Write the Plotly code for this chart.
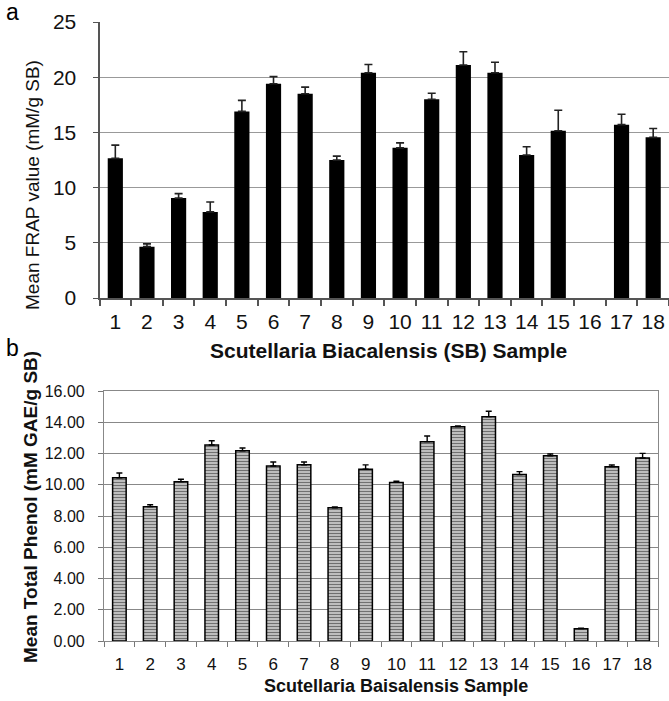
import plotly.graph_objects as go

W, H = 669, 701

samples = [str(i) for i in range(1, 19)]

frap = [12.65, 4.65, 9.05, 7.8, 16.9, 19.4, 18.5, 12.5, 20.4, 13.6,
        18.0, 21.1, 20.4, 12.95, 15.15, None, 15.7, 14.55]
frap_err = [1.2, 0.25, 0.4, 0.9, 1.0, 0.65, 0.6, 0.35, 0.75, 0.45,
            0.55, 1.2, 0.95, 0.75, 1.85, 0, 0.95, 0.8]

phenol = [10.45, 8.6, 10.2, 12.54, 12.18, 11.2, 11.28, 8.53, 10.99, 10.15,
          12.76, 13.72, 14.36, 10.65, 11.86, 0.79, 11.16, 11.71]
phenol_err = [0.3, 0.12, 0.15, 0.28, 0.17, 0.26, 0.18, 0.05, 0.28, 0.07,
              0.36, 0.05, 0.34, 0.19, 0.11, 0.03, 0.1, 0.3]

top_title = "Scutellaria Biacalensis (SB) Sample"
bot_title = "Scutellaria Baisalensis Sample"
top_ytitle = "Mean FRAP value (mM/g SB)"
bot_ytitle = "Mean Total Phenol (mM GAE/g SB)"

FONT = "Liberation Sans, Arial, sans-serif"


def px(x):
    return x / W


def py(y):
    return 1 - y / H


fig = go.Figure()
fig.add_trace(go.Bar(
    x=samples, y=frap, xaxis="x", yaxis="y", width=0.48,
    marker=dict(color="black", line=dict(width=0)),
    error_y=dict(type="data", array=frap_err, symmetric=False,
                 arrayminus=[0] * len(frap_err), color="#222",
                 thickness=1.6, width=4),
    showlegend=False,
))
fig.add_trace(go.Bar(
    x=samples, y=phenol, xaxis="x2", yaxis="y2", width=0.44,
    marker=dict(color="white", line=dict(color="black", width=1.5),
                pattern=dict(shape="-", fgcolor="#707070", bgcolor="#f0f0f0",
                             size=3, solidity=0.6)),
    error_y=dict(type="data", array=phenol_err, symmetric=False,
                 arrayminus=[0] * len(phenol_err), color="black",
                 thickness=1.4, width=3),
    showlegend=False,
))

fig.update_layout(
    template="none",
    width=W, height=H, autosize=False,
    margin=dict(l=0, r=0, t=0, b=0, pad=0, autoexpand=False),
    paper_bgcolor="white", plot_bgcolor="white",
    font=dict(family=FONT, color="black"),
    xaxis=dict(domain=[px(99.5), 1.0], anchor="y", type="category",
               range=[-0.5, 17.5], tickson="boundaries", ticks="outside",
               ticklen=6, tickwidth=1.5, tickcolor="#555",
               showline=True, linecolor="#555", linewidth=1.5,
               showgrid=False, tickfont=dict(size=21, color="#111"),
               tickangle=0, ticklabelstandoff=4, automargin=False),
    yaxis=dict(domain=[py(298), py(22)], anchor="x", range=[0, 25],
               dtick=5, showgrid=True, gridcolor="#999", gridwidth=1.3,
               zeroline=False, showline=True, linecolor="#555",
               linewidth=2, ticks="outside", ticklen=5, tickcolor="#555",
               tickfont=dict(size=21, color="#111"), ticklabelstandoff=12,
               automargin=False),
    xaxis2=dict(domain=[px(104), px(658)], anchor="y2", type="category",
                range=[-0.5, 17.5], tickson="boundaries", ticks="outside",
                ticklen=5, tickwidth=1, tickcolor="#777",
                showline=True, mirror=True, linecolor="#888", linewidth=1.2,
                showgrid=False, tickfont=dict(size=17, color="#111"),
                tickangle=0, ticklabelstandoff=7, automargin=False),
    yaxis2=dict(domain=[py(641), py(391)], anchor="x2", range=[0, 16],
                dtick=2, tickformat=".2f", showgrid=True, gridcolor="#888",
                gridwidth=1, zeroline=False, showline=True, mirror=True,
                linecolor="#888", linewidth=1.2, ticks="outside",
                ticklen=5, tickcolor="#777",
                tickfont=dict(size=16, color="#111"), ticklabelstandoff=10,
                automargin=False),
)

annos = [
    dict(text="a", x=px(13), y=py(12), font=dict(size=23)),
    dict(text="b", x=px(12), y=py(348), font=dict(size=23)),
    dict(text=top_title, x=px(388), y=py(351),
         font=dict(size=21, color="#111"), bold=True),
    dict(text=bot_title, x=px(396), y=py(686),
         font=dict(size=18, color="#111"), bold=True),
    dict(text=top_ytitle, x=px(33), y=py(185), textangle=-90,
         font=dict(size=19, color="#111")),
    dict(text=bot_ytitle, x=px(30), y=py(507), textangle=-90,
         font=dict(size=19, color="#111"), bold=True),
]
for a in annos:
    bold = a.pop("bold", False)
    if bold:
        a["text"] = "<b>" + a["text"] + "</b>"
    fig.add_annotation(xref="paper", yref="paper", showarrow=False,
                       xanchor="center", yanchor="middle", **a)

fig.write_html("out.html",
               config={"displayModeBar": False},
               post_script="document.body.style.margin='0';"
                           "document.body.style.overflow='hidden';")
